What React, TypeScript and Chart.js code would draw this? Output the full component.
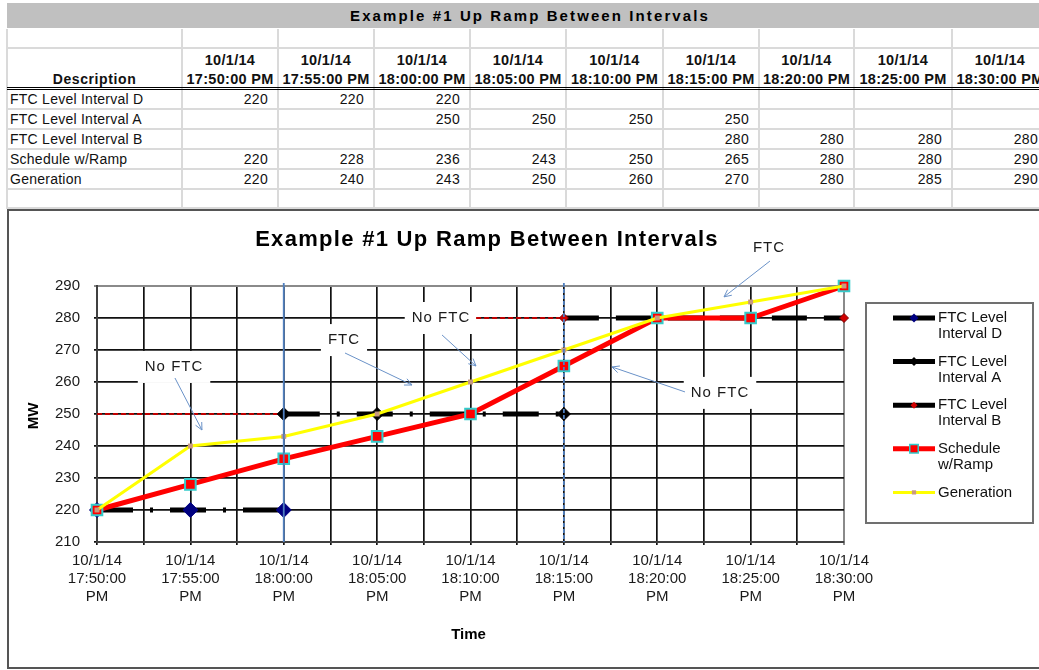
import React, { useEffect, useRef } from 'react';
import { Chart, registerables } from 'chart.js';

Chart.register(...registerables);

const FONT = '"Liberation Sans", Arial, Helvetica, sans-serif';

// ---------- data ----------
const title = 'Example #1 Up Ramp Between Intervals';
const dates = ['10/1/14', '10/1/14', '10/1/14', '10/1/14', '10/1/14', '10/1/14', '10/1/14', '10/1/14', '10/1/14'];
const times = ['17:50:00', '17:55:00', '18:00:00', '18:05:00', '18:10:00', '18:15:00', '18:20:00', '18:25:00', '18:30:00'];
const meridiem = 'PM';
const seriesNames = ['FTC Level Interval D', 'FTC Level Interval A', 'FTC Level Interval B', 'Schedule w/Ramp', 'Generation'];
const ftcD: (number | null)[] = [220, 220, 220, null, null, null, null, null, null];
const ftcA: (number | null)[] = [null, null, 250, 250, 250, 250, null, null, null];
const ftcB: (number | null)[] = [null, null, null, null, null, 280, 280, 280, 280];
const schedule: (number | null)[] = [220, 228, 236, 243, 250, 265, 280, 280, 290];
const generation: (number | null)[] = [220, 240, 243, 250, 260, 270, 280, 285, 290];
const yMin = 210;
const yMax = 290;
const yStep = 10;

// annotations (in data units: x = category index, y = MW)
const notes = [
  { text: 'No FTC', x: 0.825, y: 264.7, from: [0.835, 261.25], to: [1.124, 245] },
  { text: 'FTC', x: 2.645, y: 273.1, from: [2.656, 269.06], to: [3.373, 259.06] },
  { text: 'No FTC', x: 3.684, y: 280, from: [3.695, 274.7], to: [4.059, 265] },
  { text: 'No FTC', x: 6.672, y: 256.6, from: [6.297, 256.9], to: [5.515, 264.7] },
  { text: 'FTC', x: 7.197, y: 301.9, from: [7.207, 297.8], to: [6.715, 286.6] },
];
const redDashes = [
  { y: 250, x0: 0, x1: 2 },
  { y: 280, x0: 4.06, x1: 5 },
];
const blueMarks = [
  { x: 2, dashed: false },
  { x: 5, dashed: true },
];

const seriesValues = [ftcD, ftcA, ftcB, schedule, generation];

function toPoints(arr: (number | null)[]) {
  const out: { x: number; y: number }[] = [];
  arr.forEach((v, i) => {
    if (v !== null) out.push({ x: i, y: v });
  });
  return out;
}

function drawMarker(ctx: CanvasRenderingContext2D, style: string, x: number, y: number, r: number, fill: string, stroke: string, bw: number) {
  ctx.beginPath();
  if (style === 'rectRot') {
    ctx.moveTo(x - r, y);
    ctx.lineTo(x, y - r);
    ctx.lineTo(x + r, y);
    ctx.lineTo(x, y + r);
    ctx.closePath();
  } else {
    const s = r * Math.SQRT1_2;
    ctx.rect(x - s, y - s, 2 * s, 2 * s);
  }
  ctx.fillStyle = fill;
  ctx.fill();
  if (bw > 0) {
    ctx.lineWidth = bw;
    ctx.strokeStyle = stroke;
    ctx.setLineDash([]);
    ctx.stroke();
  }
}

function arrow(ctx: CanvasRenderingContext2D, x1: number, y1: number, x2: number, y2: number) {
  ctx.beginPath();
  ctx.moveTo(x1, y1);
  ctx.lineTo(x2, y2);
  ctx.stroke();
  const a = Math.atan2(y2 - y1, x2 - x1);
  const L = 8;
  const sp = 0.45;
  ctx.beginPath();
  ctx.moveTo(x2 - L * Math.cos(a - sp), y2 - L * Math.sin(a - sp));
  ctx.lineTo(x2, y2);
  ctx.lineTo(x2 - L * Math.cos(a + sp), y2 - L * Math.sin(a + sp));
  ctx.stroke();
}

function wrap(ctx: CanvasRenderingContext2D, text: string, maxW: number) {
  const words = text.split(' ');
  const lines: string[] = [];
  let cur = '';
  words.forEach((w) => {
    const t = cur ? cur + ' ' + w : w;
    if (cur && ctx.measureText(t).width > maxW) {
      lines.push(cur);
      cur = w;
    } else cur = t;
  });
  if (cur) lines.push(cur);
  return lines;
}

const overlayPlugin = {
  id: 'overlay',
  beforeDatasetsDraw(chart: any) {
    const { ctx, scales } = chart;
    const xs = scales.x;
    const ys = scales.y;
    ctx.save();
    ctx.font = `15px ${FONT}`;
    (ctx as any).letterSpacing = '1px';
    ctx.textAlign = 'center';
    ctx.textBaseline = 'middle';
    notes.forEach((n) => {
      const px = xs.getPixelForValue(n.x);
      const py = ys.getPixelForValue(n.y);
      const w = ctx.measureText(n.text).width + 14;
      ctx.fillStyle = '#ffffff';
      ctx.fillRect(px - w / 2, py - 16, w, 32);
      ctx.fillStyle = '#1a1a1a';
      ctx.fillText(n.text, px, py);
    });
    (ctx as any).letterSpacing = '0px';
    ctx.strokeStyle = '#c00000';
    ctx.lineWidth = 1.8;
    ctx.setLineDash([5, 3]);
    redDashes.forEach((d) => {
      const py = ys.getPixelForValue(d.y);
      ctx.beginPath();
      ctx.moveTo(xs.getPixelForValue(d.x0), py);
      ctx.lineTo(xs.getPixelForValue(d.x1), py);
      ctx.stroke();
    });
    ctx.restore();
  },
  afterDatasetsDraw(chart: any) {
    const { ctx, scales, chartArea } = chart;
    const xs = scales.x;
    const ys = scales.y;
    ctx.save();
    ctx.strokeStyle = '#4f7fbf';
    ctx.lineWidth = 1.8;
    blueMarks.forEach((b) => {
      const px = xs.getPixelForValue(b.x);
      ctx.setLineDash(b.dashed ? [4, 2] : []);
      ctx.beginPath();
      ctx.moveTo(px, chartArea.top - 3);
      ctx.lineTo(px, chartArea.bottom);
      ctx.stroke();
    });
    ctx.setLineDash([]);
    ctx.strokeStyle = '#6a92c8';
    ctx.lineWidth = 1;
    notes.forEach((n) => {
      arrow(
        ctx,
        xs.getPixelForValue(n.from[0]),
        ys.getPixelForValue(n.from[1]),
        xs.getPixelForValue(n.to[0]),
        ys.getPixelForValue(n.to[1])
      );
    });
    ctx.restore();
  },
  afterDraw(chart: any) {
    const { ctx, chartArea } = chart;
    ctx.save();
    ctx.fillStyle = '#000';
    ctx.textAlign = 'center';
    ctx.textBaseline = 'middle';
    // chart title
    ctx.font = `bold 22px ${FONT}`;
    (ctx as any).letterSpacing = '1.3px';
    ctx.fillText(title, 487, 240);
    (ctx as any).letterSpacing = '0px';
    // axis titles
    ctx.font = `bold 15px ${FONT}`;
    ctx.fillText('Time', (chartArea.left + chartArea.right) / 2 - 2, 635);
    ctx.save();
    ctx.translate(34, (chartArea.top + chartArea.bottom) / 2 + 2);
    ctx.rotate(-Math.PI / 2);
    ctx.fillText('MW', 0, 0);
    ctx.restore();

    // legend
    const lx = chartArea.right + 22;
    const ly = chartArea.top + 17;
    const lw = 167;
    const lh = 220;
    ctx.fillStyle = '#ffffff';
    ctx.fillRect(lx, ly, lw, lh);
    ctx.strokeStyle = '#707070';
    ctx.lineWidth = 2;
    ctx.strokeRect(lx, ly, lw, lh);
    ctx.font = `15px ${FONT}`;
    ctx.textAlign = 'left';
    chart.data.datasets.forEach((ds: any, i: number) => {
      const y = ly + 15 + i * 43.6;
      const x0 = lx + 27;
      const x1 = lx + 69;
      ctx.setLineDash([]);
      ctx.strokeStyle = ds.borderColor;
      ctx.lineWidth = ds.borderWidth;
      ctx.beginPath();
      ctx.moveTo(x0, y);
      ctx.lineTo(x1, y);
      ctx.stroke();
      drawMarker(ctx, ds.pointStyle, (x0 + x1) / 2, y, ds.legendPointRadius, ds.pointBackgroundColor, ds.pointBorderColor, ds.legendPointBorder);
      ctx.fillStyle = '#111';
      const lines = wrap(ctx, ds.label, 88);
      lines.forEach((t, k) => ctx.fillText(t, lx + 72, y + k * 16));
    });
    ctx.restore();
  },
};

function ChartBox() {
  const ref = useRef<HTMLCanvasElement | null>(null);
  useEffect(() => {
    if (!ref.current) return;
    const lastIdx = times.length - 1;
    const styles = [
      { color: '#000000', width: 5, dash: [36, 17, 3, 17], ps: 'rectRot', r: 7.5, bg: '#000080', bc: '#000080', bw: 1, lr: 4.5, lb: 0, order: 5 },
      { color: '#000000', width: 5, dash: [36, 17, 3, 17], ps: 'rectRot', r: 6.5, bg: '#000000', bc: '#000000', bw: 1, lr: 4.5, lb: 0, order: 4 },
      { color: '#000000', width: 5, dash: [35, 17], ps: 'rectRot', r: 4.5, bg: '#d00000', bc: '#800000', bw: 1, lr: 3.5, lb: 0, order: 3 },
      { color: '#ff0000', width: 5, dash: [], ps: 'rect', r: 7.5, bg: '#ff0000', bc: '#33cccc', bw: 2, lr: 6, lb: 1.5, order: 2 },
      { color: '#ffff00', width: 3, dash: [], ps: 'rect', r: 3.5, bg: '#c89a80', bc: '#c89a80', bw: 0, lr: 3, lb: 0, order: 1 },
    ];
    const datasets = seriesValues.map((vals, i) => {
      const s = styles[i];
      return {
        label: seriesNames[i],
        data: toPoints(vals),
        borderColor: s.color,
        borderWidth: s.width,
        borderDash: s.dash,
        borderCapStyle: 'butt',
        pointStyle: s.ps,
        pointRadius: s.r,
        pointHoverRadius: s.r,
        pointBackgroundColor: s.bg,
        pointBorderColor: s.bc,
        pointBorderWidth: s.bw,
        legendPointRadius: s.lr,
        legendPointBorder: s.lb,
        tension: 0,
        fill: false,
        clip: false,
        order: s.order,
      };
    });
    const gridColor = (edgeVal: number) => (c: any) =>
      c.tick && Math.abs(c.tick.value - edgeVal) < 1e-6 ? '#8a8a8a' : '#111111';
    const gridWidth = (edgeVal: number) => (c: any) =>
      c.tick && Math.abs(c.tick.value - edgeVal) < 1e-6 ? 2 : 1.7;

    const chart = new Chart(ref.current, {
      type: 'line',
      data: { datasets: datasets as any },
      plugins: [overlayPlugin as any],
      options: {
        animation: false,
        responsive: false,
        maintainAspectRatio: false,
        events: [],
        layout: { padding: { top: 286, right: 195, left: 0, bottom: 0 } },
        plugins: {
          legend: { display: false },
          title: { display: false },
          tooltip: { enabled: false },
        },
        scales: {
          x: {
            type: 'linear',
            min: 0,
            max: lastIdx,
            afterFit: (s: any) => {
              s.height = 128;
            },
            ticks: {
              stepSize: 0.5,
              autoSkip: false,
              maxRotation: 0,
              minRotation: 0,
              padding: 7,
              color: '#1a1a1a',
              font: { family: FONT, size: 15, lineHeight: 1.2 },
              callback: (v: any) => {
                const n = Number(v);
                const r = Math.round(n);
                return Math.abs(n - r) < 1e-6 ? [dates[r], times[r], meridiem] : '';
              },
            },
            grid: { color: gridColor(lastIdx), lineWidth: gridWidth(lastIdx), tickLength: 3 },
            border: { color: '#404040', width: 2 },
          },
          y: {
            type: 'linear',
            min: yMin,
            max: yMax,
            afterFit: (s: any) => {
              s.width = 97;
            },
            ticks: {
              stepSize: yStep,
              padding: 14,
              color: '#1a1a1a',
              font: { family: FONT, size: 15 },
            },
            grid: { color: gridColor(yMax), lineWidth: gridWidth(yMax), tickLength: 3 },
            border: { color: '#404040', width: 2 },
          },
        },
      } as any,
    });
    return () => chart.destroy();
  }, []);
  return (
    <canvas
      ref={ref}
      width={1039}
      height={670}
      style={{ position: 'absolute', left: 0, top: 0, width: 1039, height: 670, zIndex: 2 }}
    />
  );
}

function Table() {
  const colEdges = [7, 182, 278, 374, 470, 566, 663, 759, 854, 952, 1048];
  const rowTops = [89, 109, 129, 149, 169];
  const hLines = [48, 109, 129, 149, 169, 189, 208];
  const base: React.CSSProperties = { position: 'absolute', fontFamily: FONT, color: '#111', whiteSpace: 'nowrap' };
  const cells: React.ReactNode[] = [];
  // title bar
  cells.push(
    <div key="bar" style={{ ...base, left: 7, top: 3, width: 1046, height: 25, background: '#c0c0c0' }} />
  );
  cells.push(
    <div
      key="bartitle"
      style={{ ...base, left: 7, top: 3, width: 1046, height: 25, lineHeight: '25px', textAlign: 'center', fontWeight: 'bold', fontSize: 15, letterSpacing: '2.1px', color: '#000' }}
    >
      {title}
    </div>
  );
  // grid lines
  colEdges.forEach((x, i) =>
    cells.push(<div key={'v' + i} style={{ ...base, left: x - 1, top: 29, width: 2, height: 180, background: '#dadada' }} />)
  );
  hLines.forEach((y, i) =>
    cells.push(<div key={'h' + i} style={{ ...base, left: 7, top: y - 1, width: 1040, height: 2, background: '#dadada' }} />)
  );
  cells.push(<div key="dl1" style={{ ...base, left: 7, top: 87, width: 1040, height: 1, background: '#000' }} />);
  cells.push(<div key="dl2" style={{ ...base, left: 7, top: 89, width: 1040, height: 1, background: '#000' }} />);
  // header
  cells.push(
    <div key="desc" style={{ ...base, left: 7, top: 70, width: 175, height: 18, lineHeight: '18px', textAlign: 'center', fontWeight: 'bold', fontSize: 14, letterSpacing: '0.6px' }}>
      Description
    </div>
  );
  times.forEach((t, c) => {
    const l = colEdges[c + 1];
    const w = colEdges[c + 2] - l;
    cells.push(
      <div key={'hd' + c} style={{ ...base, left: l, top: 51, width: w, height: 18, lineHeight: '18px', textAlign: 'center', fontWeight: 'bold', fontSize: 14.5, letterSpacing: '0.3px' }}>
        {dates[c]}
      </div>
    );
    cells.push(
      <div key={'ht' + c} style={{ ...base, left: l, top: 70, width: w, height: 18, lineHeight: '18px', textAlign: 'center', fontWeight: 'bold', fontSize: 14.5, letterSpacing: '0.3px' }}>
        {t + ' ' + meridiem}
      </div>
    );
  });
  // rows
  seriesValues.forEach((vals, r) => {
    const top = rowTops[r];
    cells.push(
      <div key={'rn' + r} style={{ ...base, left: 10, top, height: 20, lineHeight: '20px', fontSize: 14, letterSpacing: '0.25px' }}>
        {seriesNames[r]}
      </div>
    );
    vals.forEach((v, c) => {
      if (v === null) return;
      const l = colEdges[c + 1];
      const w = colEdges[c + 2] - l;
      cells.push(
        <div key={'c' + r + '_' + c} style={{ ...base, left: l, top, width: w - 10, height: 20, lineHeight: '20px', textAlign: 'right', fontSize: 14, letterSpacing: '0.3px' }}>
          {v}
        </div>
      );
    });
  });
  return <>{cells}</>;
}

export default function App() {
  return (
    <div style={{ position: 'fixed', left: 0, top: 0, width: 1039, height: 670, background: '#fff', overflow: 'hidden' }}>
      <Table />
      <div
        style={{ position: 'absolute', left: 7, top: 209, width: 1045, height: 460, border: '2px solid #555', boxSizing: 'border-box', background: '#fff', zIndex: 1 }}
      />
      <ChartBox />
    </div>
  );
}
